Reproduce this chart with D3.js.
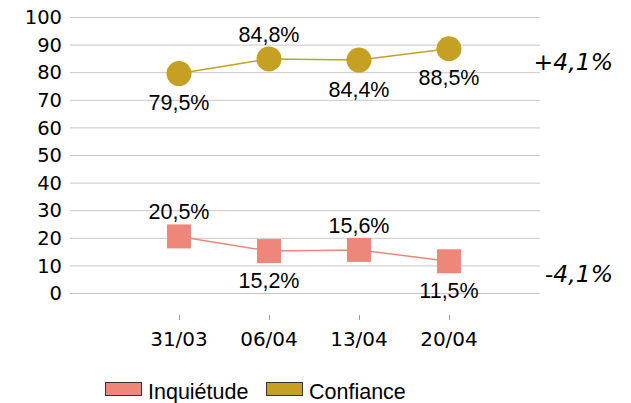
<!DOCTYPE html>
<html><head><meta charset="utf-8">
<script src="https://cdn.jsdelivr.net/npm/d3@7"></script>
<style>body{margin:0;background:#fff}</style>
</head><body>
<script>
const categories = ["31/03","06/04","13/04","20/04"];
const confiance = [79.5, 84.8, 84.4, 88.5];
const inquietude = [20.5, 15.2, 15.6, 11.5];
const confianceLabelPos = ["below","above","below","below"];
const inquietudeLabelPos = ["above","below","above","below"];
const yTicks = [0,10,20,30,40,50,60,70,80,90,100];
const deltaLabels = {confiance:"+4,1%", inquietude:"-4,1%"};
const seriesNames = ["Inquiétude","Confiance"];

const W=631,H=403;
const gold="#C5A022", salmon="#EE877A";
const svg=d3.select("body").append("svg").attr("width",W).attr("height",H);
const y=d3.scaleLinear().domain([0,100]).range([293,17]);
const x=d3.scaleBand().domain(categories).range([134,494]);
const cx=d=>x(d)+x.bandwidth()/2;

// grid
svg.append("g").selectAll("line").data(yTicks).join("line")
 .attr("x1",70).attr("x2",540).attr("y1",d=>y(d)+0.5).attr("y2",d=>y(d)+0.5)
 .attr("stroke","#c8c8c8").attr("stroke-width",1);
svg.append("g").selectAll("text").data(yTicks).join("text")
 .attr("x",62).attr("y",d=>y(d)).attr("dy","0.37em").attr("text-anchor","end")
 .attr("font-family","DejaVu Sans").attr("font-size",19.5).attr("fill","#000").text(d=>d);
// x ticks
svg.append("g").selectAll("line").data(categories).join("line")
 .attr("x1",d=>Math.round(cx(d))+0.5).attr("x2",d=>Math.round(cx(d))+0.5).attr("y1",315).attr("y2",320)
 .attr("stroke","#999");
svg.append("g").selectAll("text").data(categories).join("text")
 .attr("x",cx).attr("y",346).attr("text-anchor","middle")
 .attr("font-family","DejaVu Sans").attr("font-size",20).attr("fill","#000").text(d=>d);

const line=d3.line().x((d,i)=>cx(categories[i])).y(d=>y(d));
function fmt(v){return v.toFixed(1).replace(".",",")+"%";}

// confiance
svg.append("path").datum(confiance).attr("d",line).attr("fill","none").attr("stroke",gold).attr("stroke-width",1.5);
svg.append("g").selectAll("circle").data(confiance).join("circle")
 .attr("cx",(d,i)=>cx(categories[i])).attr("cy",d=>y(d)).attr("r",12.5).attr("fill",gold);
svg.append("g").selectAll("text").data(confiance).join("text")
 .attr("x",(d,i)=>cx(categories[i])).attr("y",(d,i)=>y(d)+(confianceLabelPos[i]==="above"?-25:29)).attr("dy","0.36em")
 .attr("text-anchor","middle").attr("font-family","Liberation Sans").attr("font-size",21.5).text(fmt);

// inquietude
svg.append("path").datum(inquietude).attr("d",line).attr("fill","none").attr("stroke",salmon).attr("stroke-width",1.5);
svg.append("g").selectAll("rect").data(inquietude).join("rect")
 .attr("x",(d,i)=>cx(categories[i])-12).attr("y",d=>y(d)-12).attr("width",24).attr("height",24).attr("fill",salmon);
svg.append("g").selectAll("text").data(inquietude).join("text")
 .attr("x",(d,i)=>cx(categories[i])).attr("y",(d,i)=>y(d)+(inquietudeLabelPos[i]==="above"?-25:29)).attr("dy","0.36em")
 .attr("text-anchor","middle").attr("font-family","Liberation Sans").attr("font-size",21.5).text(fmt);

// delta labels
svg.append("text").attr("x",613).attr("y",70).attr("text-anchor","end").attr("font-family","DejaVu Sans")
 .attr("font-style","italic").attr("font-size",23.5).text(deltaLabels.confiance);
svg.append("text").attr("x",613).attr("y",282).attr("text-anchor","end").attr("font-family","DejaVu Sans")
 .attr("font-style","italic").attr("font-size",23.5).text(deltaLabels.inquietude);

// legend
const leg=[{n:seriesNames[0],c:salmon,x:105},{n:seriesNames[1],c:gold,x:266}];
const lg=svg.append("g").selectAll("g").data(leg).join("g");
lg.append("rect").attr("x",d=>d.x+0.5).attr("y",382.5).attr("width",36).attr("height",13).attr("fill",d=>d.c).attr("stroke","#333").attr("stroke-width",1);
lg.append("text").attr("x",d=>d.x+43).attr("y",399).attr("font-family","Liberation Sans").attr("font-size",21.5).text(d=>d.n);
</script>
</body></html>
